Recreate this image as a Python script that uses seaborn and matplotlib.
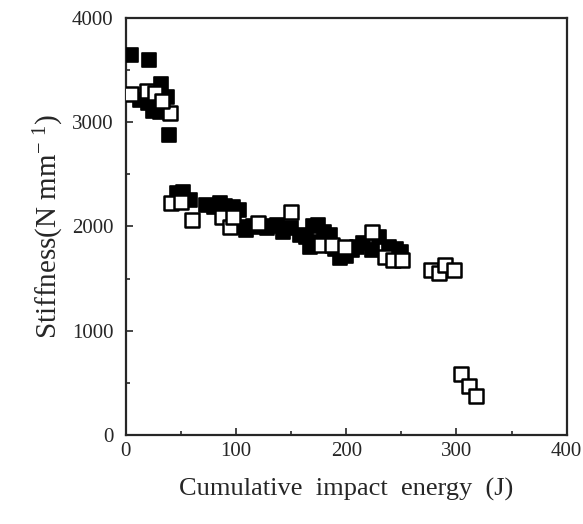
import numpy as np
import pandas as pd
import matplotlib
matplotlib.use("Agg")
import matplotlib.pyplot as plt
import seaborn as sns
from matplotlib.ticker import MultipleLocator

# filled squares
filled_x = [5, 21, 32, 37, 13, 25, 31, 39, 20, 28,
            46, 52, 58, 73, 80, 85, 90, 97, 103, 103, 109, 115, 121, 128, 133, 137, 143,
            150, 158, 163, 168, 170, 174, 180, 185, 190, 167, 194, 200, 205, 210, 215,
            223, 230, 239, 245, 250]
filled_y = [3640, 3600, 3370, 3240, 3210, 3110, 3100, 2880, 3180, 3200,
            2320, 2330, 2254, 2206, 2190, 2225, 2200, 2187, 2158, 1995, 1966, 2000, 1995, 1986, 2000, 2014, 1947,
            1980, 1918, 1900, 1851, 2000, 2014, 1950, 1918, 1780, 1806, 1700, 1720, 1775, 1800, 1842,
            1775, 1902, 1806, 1780, 1758]

# open squares
open_x = [5, 19, 26, 40, 33,
          41, 50, 60, 87, 94, 97, 120, 150, 177, 187, 199, 223, 235, 242, 251,
          277, 284, 290, 298, 304, 311, 318]
open_y = [3270, 3300, 3280, 3090, 3200,
          2225, 2235, 2062, 2091, 1995, 2091, 2033, 2142, 1823, 1823, 1803, 1950, 1710, 1679, 1679,
          1583, 1554, 1631, 1583, 585, 470, 374]

sns.set_style("ticks")
plt.rcParams['font.family'] = ['Liberation Serif', 'DejaVu Serif']
plt.rcParams['mathtext.default'] = 'regular'

fig = plt.figure(figsize=(5.83, 5.24), dpi=100)
ax = fig.add_axes([0.216, 0.170, 0.756, 0.796])

sns.scatterplot(x=filled_x, y=filled_y, marker="s", s=95, color="black",
                edgecolor="black", linewidth=1.2, ax=ax, zorder=3)
sns.scatterplot(x=open_x, y=open_y, marker="s", s=90, color="white",
                edgecolor="black", linewidth=1.8, ax=ax, zorder=4)

ax.set_xlim(0, 400)
ax.set_ylim(0, 4000)
ax.xaxis.set_major_locator(MultipleLocator(100))
ax.xaxis.set_minor_locator(MultipleLocator(50))
ax.yaxis.set_major_locator(MultipleLocator(1000))
ax.yaxis.set_minor_locator(MultipleLocator(500))
ax.tick_params(which="both", direction="in", top=False, right=False, labelsize=15, width=1.2)
ax.tick_params(axis="y", pad=9)
ax.tick_params(axis="x", pad=5)
ax.tick_params(which="major", length=5)
ax.tick_params(which="minor", length=3)
for sp in ax.spines.values():
    sp.set_visible(True)
    sp.set_linewidth(1.6)

ax.set_xlabel("Cumulative  impact  energy  (J)", fontsize=19, labelpad=12)
ax.set_ylabel("Stiffness(N mm$^{-\\ 1}$)", fontsize=21, labelpad=4)

fig.savefig("out.png", dpi=100)
